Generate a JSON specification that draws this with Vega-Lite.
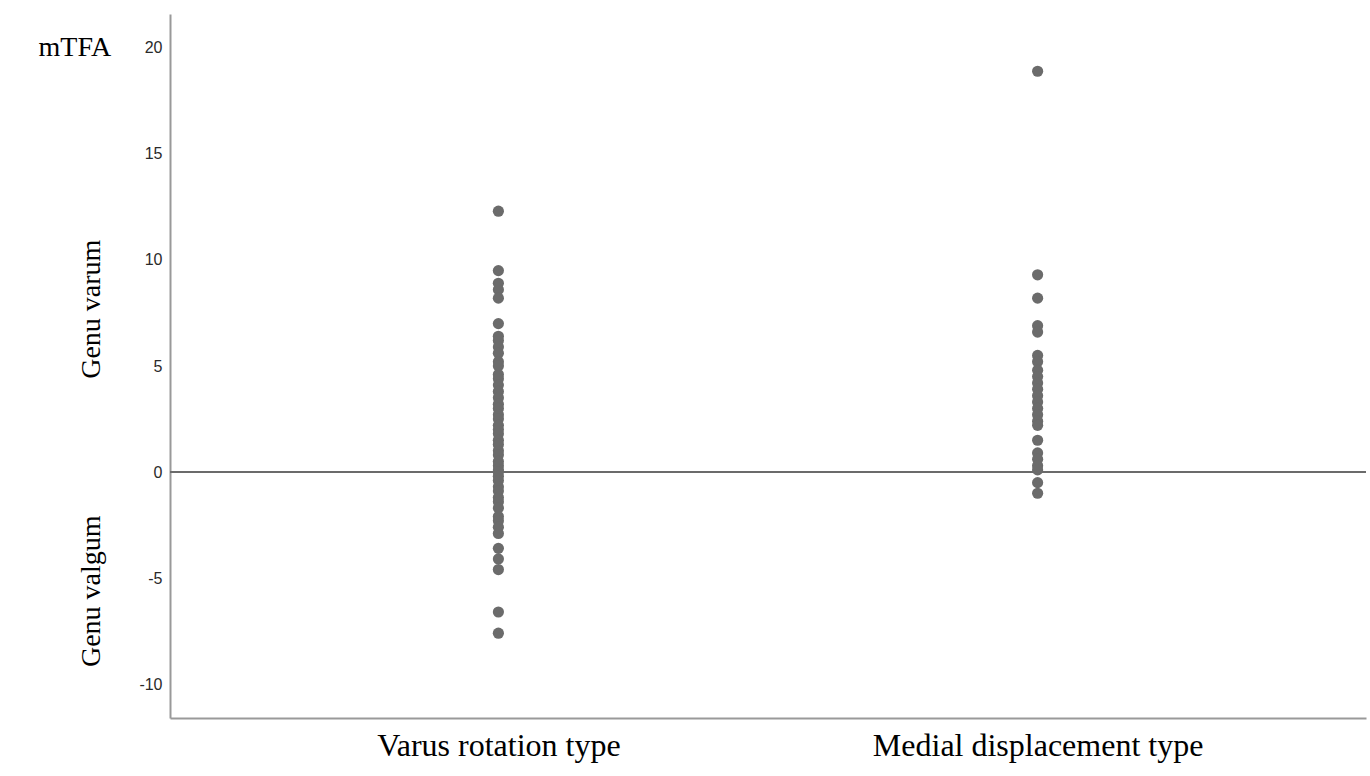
{
  "$schema": "https://vega.github.io/schema/vega-lite/v6.json",
  "width": 1196,
  "height": 704,
  "autosize": {"type": "none"},
  "padding": {"left": 170, "top": 14, "right": 4, "bottom": 58},
  "background": "white",
  "config": {"view": {"stroke": null}, "axis": {"grid": false}},
  "datasets": {
    "pts": [
      {"type": "Varus rotation type", "mTFA": 12.3},
      {"type": "Varus rotation type", "mTFA": 9.5},
      {"type": "Varus rotation type", "mTFA": 8.9},
      {"type": "Varus rotation type", "mTFA": 8.6},
      {"type": "Varus rotation type", "mTFA": 8.2},
      {"type": "Varus rotation type", "mTFA": 7.0},
      {"type": "Varus rotation type", "mTFA": 6.4},
      {"type": "Varus rotation type", "mTFA": 6.2},
      {"type": "Varus rotation type", "mTFA": 5.9},
      {"type": "Varus rotation type", "mTFA": 5.6},
      {"type": "Varus rotation type", "mTFA": 5.2},
      {"type": "Varus rotation type", "mTFA": 5.0},
      {"type": "Varus rotation type", "mTFA": 4.6},
      {"type": "Varus rotation type", "mTFA": 4.4},
      {"type": "Varus rotation type", "mTFA": 4.1},
      {"type": "Varus rotation type", "mTFA": 3.8},
      {"type": "Varus rotation type", "mTFA": 3.5},
      {"type": "Varus rotation type", "mTFA": 3.2},
      {"type": "Varus rotation type", "mTFA": 3.0},
      {"type": "Varus rotation type", "mTFA": 2.7},
      {"type": "Varus rotation type", "mTFA": 2.5},
      {"type": "Varus rotation type", "mTFA": 2.2},
      {"type": "Varus rotation type", "mTFA": 2.0},
      {"type": "Varus rotation type", "mTFA": 1.8},
      {"type": "Varus rotation type", "mTFA": 1.5},
      {"type": "Varus rotation type", "mTFA": 1.3},
      {"type": "Varus rotation type", "mTFA": 1.0},
      {"type": "Varus rotation type", "mTFA": 0.8},
      {"type": "Varus rotation type", "mTFA": 0.5},
      {"type": "Varus rotation type", "mTFA": 0.3},
      {"type": "Varus rotation type", "mTFA": 0.1},
      {"type": "Varus rotation type", "mTFA": 0.0},
      {"type": "Varus rotation type", "mTFA": -0.2},
      {"type": "Varus rotation type", "mTFA": -0.4},
      {"type": "Varus rotation type", "mTFA": -0.7},
      {"type": "Varus rotation type", "mTFA": -0.9},
      {"type": "Varus rotation type", "mTFA": -1.2},
      {"type": "Varus rotation type", "mTFA": -1.4},
      {"type": "Varus rotation type", "mTFA": -1.7},
      {"type": "Varus rotation type", "mTFA": -2.1},
      {"type": "Varus rotation type", "mTFA": -2.3},
      {"type": "Varus rotation type", "mTFA": -2.6},
      {"type": "Varus rotation type", "mTFA": -2.9},
      {"type": "Varus rotation type", "mTFA": -3.6},
      {"type": "Varus rotation type", "mTFA": -4.1},
      {"type": "Varus rotation type", "mTFA": -4.6},
      {"type": "Varus rotation type", "mTFA": -6.6},
      {"type": "Varus rotation type", "mTFA": -7.6},
      {"type": "Medial displacement type", "mTFA": 18.9},
      {"type": "Medial displacement type", "mTFA": 9.3},
      {"type": "Medial displacement type", "mTFA": 8.2},
      {"type": "Medial displacement type", "mTFA": 6.9},
      {"type": "Medial displacement type", "mTFA": 6.6},
      {"type": "Medial displacement type", "mTFA": 5.5},
      {"type": "Medial displacement type", "mTFA": 5.2},
      {"type": "Medial displacement type", "mTFA": 4.8},
      {"type": "Medial displacement type", "mTFA": 4.5},
      {"type": "Medial displacement type", "mTFA": 4.2},
      {"type": "Medial displacement type", "mTFA": 3.9},
      {"type": "Medial displacement type", "mTFA": 3.6},
      {"type": "Medial displacement type", "mTFA": 3.3},
      {"type": "Medial displacement type", "mTFA": 3.0},
      {"type": "Medial displacement type", "mTFA": 2.7},
      {"type": "Medial displacement type", "mTFA": 2.4},
      {"type": "Medial displacement type", "mTFA": 2.2},
      {"type": "Medial displacement type", "mTFA": 1.5},
      {"type": "Medial displacement type", "mTFA": 0.9},
      {"type": "Medial displacement type", "mTFA": 0.6},
      {"type": "Medial displacement type", "mTFA": 0.3},
      {"type": "Medial displacement type", "mTFA": 0.1},
      {"type": "Medial displacement type", "mTFA": -0.5},
      {"type": "Medial displacement type", "mTFA": -1.0}
    ]
  },
  "layer": [
    {
      "data": {"values": [{"ref": 0}]},
      "mark": {"type": "rule", "color": "#6b6b6b", "strokeWidth": 2},
      "encoding": {
        "y": {
          "field": "ref",
          "type": "quantitative",
          "scale": {"domain": [-11.6, 21.6], "nice": false, "zero": false},
          "axis": {
            "orient": "left",
            "values": [7.7, -5.6],
            "labelExpr": "datum.value > 0 ? 'Genu varum' : 'Genu valgum'",
            "labelAngle": -90,
            "labelAlign": "center",
            "labelBaseline": "middle",
            "labelPadding": 79,
            "labelFont": "Liberation Serif",
            "labelFontSize": 28,
            "labelColor": "black",
            "labelOverlap": false,
            "labelBound": false,
            "labelFlush": false,
            "labelLimit": 0,
            "domain": false,
            "ticks": false,
            "title": null,
            "offset": 0
          }
        }
      }
    },
    {
      "data": {"name": "pts"},
      "mark": {"type": "point", "filled": true, "color": "#6b6b6b", "size": 125, "opacity": 1},
      "encoding": {
        "x": {
          "field": "type",
          "type": "nominal",
          "sort": ["Varus rotation type", "Medial displacement type"],
          "scale": {"type": "point", "padding": 0.609},
          "axis": {
            "title": null,
            "labelAngle": 0,
            "ticks": false,
            "domainColor": "#999999",
            "domainWidth": 2,
            "labelFont": "Liberation Serif",
            "labelFontSize": 32,
            "labelColor": "black",
            "labelPadding": 12,
            "labelBaseline": "top",
            "labelLimit": 0
          }
        },
        "y": {
          "field": "mTFA",
          "type": "quantitative",
          "scale": {"domain": [-11.6, 21.6], "nice": false, "zero": false},
          "axis": {
            "orient": "left",
            "values": [-10, -5, 0, 5, 10, 15, 20],
            "labelExpr": "toString(datum.value)",
            "ticks": false,
            "domainColor": "#999999",
            "domainWidth": 2,
            "labelFont": "Liberation Sans",
            "labelFontSize": 16,
            "labelColor": "#2a2a2a",
            "labelPadding": 8,
            "title": "mTFA",
            "titleAngle": 0,
            "titleX": -132,
            "titleY": 33,
            "titleAlign": "left",
            "titleBaseline": "middle",
            "titleFont": "Liberation Serif",
            "titleFontSize": 28,
            "titleFontWeight": "normal",
            "titleColor": "black"
          }
        }
      }
    }
  ],
  "resolve": {"axis": {"y": "independent"}}
}
